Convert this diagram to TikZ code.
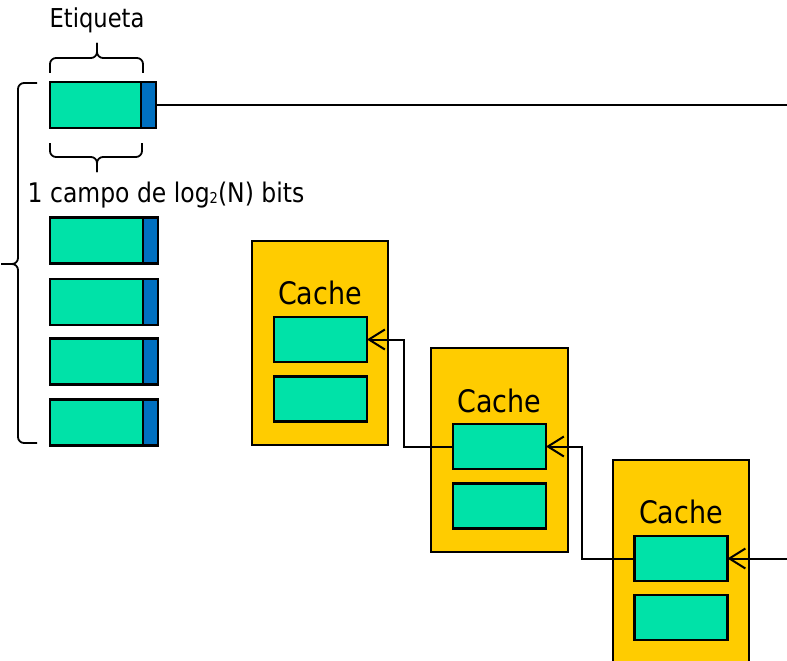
\documentclass[tikz,border=0pt]{standalone}
\usepackage{fontspec}
\setmainfont{DejaVu Sans}[FakeStretch=0.87]
\usetikzlibrary{positioning,arrows.meta}
\definecolor{tagGreen}{RGB}{0,226,168}
\definecolor{bitBlue}{RGB}{0,112,192}
\definecolor{cacheYellow}{RGB}{255,204,0}
\newcommand{\smallsub}[1]{\raisebox{-1.5pt}{\fontsize{15}{15}\selectfont #1}}

\begin{document}
\begin{tikzpicture}[x=1pt,y=-1pt,
	tag/.style={draw, fill=tagGreen, line width=2.5pt, minimum width=93pt, minimum height=46pt, inner sep=0pt, outer sep=0pt},
	bit/.style={draw, fill=bitBlue, line width=2.5pt, minimum width=15pt, minimum height=46pt, inner sep=0pt, outer sep=0pt},
	cache/.style={draw, fill=cacheYellow, line width=2.5pt, minimum width=136pt, minimum height=204pt, inner sep=0pt, outer sep=0pt},
	slot/.style={tag, minimum height=45pt},
	wire/.style={line width=2pt},
	ptr/.style={line width=2pt, -{Straight Barb[length=16pt,width=20pt,line width=2pt]}},
	bracket/.style={line width=1.8pt, rounded corners=6pt},
	lbl/.style={font=\fontsize{27}{32}\selectfont, anchor=base, inner sep=0pt},
	cachelbl/.style={font=\fontsize{31}{36}\selectfont, anchor=base, inner sep=0pt}]
	\clip (0,0) rectangle (787,661);
	%\draw[help lines] (0,0) grid[step=50] (787,661);
	% entrada del directorio
	\node[lbl, font=\fontsize{26}{30}\selectfont] (etq) at (97,28) {Etiqueta};
	\node[tag, minimum width=91pt] (tag0) at (95.5,105) {};
	\node[bit, right=0pt of tag0] (bit0) {};
	\node[lbl] (campo) at (166,202) {1 campo de log\smallsub{2}(N) bits};
	\draw[bracket] (50,73) |- (97,58) -- (97,43);
	\draw[bracket] (143,73) |- (97,58) -- (97,43);
	\draw[bracket] (50,143) |- (97,157) -- (97,172);
	\draw[bracket] (142,143) |- (97,157) -- (97,172);
	\draw[bracket] (37,83) -| (18,264) -- (1,264);
	\draw[bracket] (37,443) -| (18,264) -- (1,264);
	\foreach \y [count=\i] in {240.5,302,361.5,422.5} {
		\node[tag] (tag\i) at (96.5,\y) {};
		\node[bit, right=0pt of tag\i] (bit\i) {};
	}
	% caches
	\node[cache] (cache1) at (320,343) {};
	\node[cachelbl] (lbl1) at (320,304) {Cache};
	\node[slot] (slot1a) at (320.5,339.5) {};
	\node[slot] (slot1b) at (320.5,399) {};
	\node[cache, minimum width=137pt] (cache2) at (499.5,450) {};
	\node[cachelbl] (lbl2) at (499.5,412) {Cache};
	\node[slot] (slot2a) at (499.5,446.5) {};
	\node[slot] (slot2b) at (499.5,506) {};
	\node[cache] (cache3) at (681,562) {};
	\node[cachelbl] (lbl3) at (681,523) {Cache};
	\node[slot] (slot3a) at (681,558.5) {};
	\node[slot] (slot3b) at (681,617.5) {};
	% punteros
	\coordinate (busTop) at (787,105);
	\coordinate (busIn) at (787,558.5);
	\draw[wire] (bit0.east) -- (busTop);
	\draw[ptr] (busIn) -- (slot3a.east);
	\draw[ptr] (slot3a.west) -- ++(-53,0) |- (slot2a.east);
	\draw[ptr] (slot2a.west) -- ++(-49,0) |- (slot1a.east);
\end{tikzpicture}
\end{document}
